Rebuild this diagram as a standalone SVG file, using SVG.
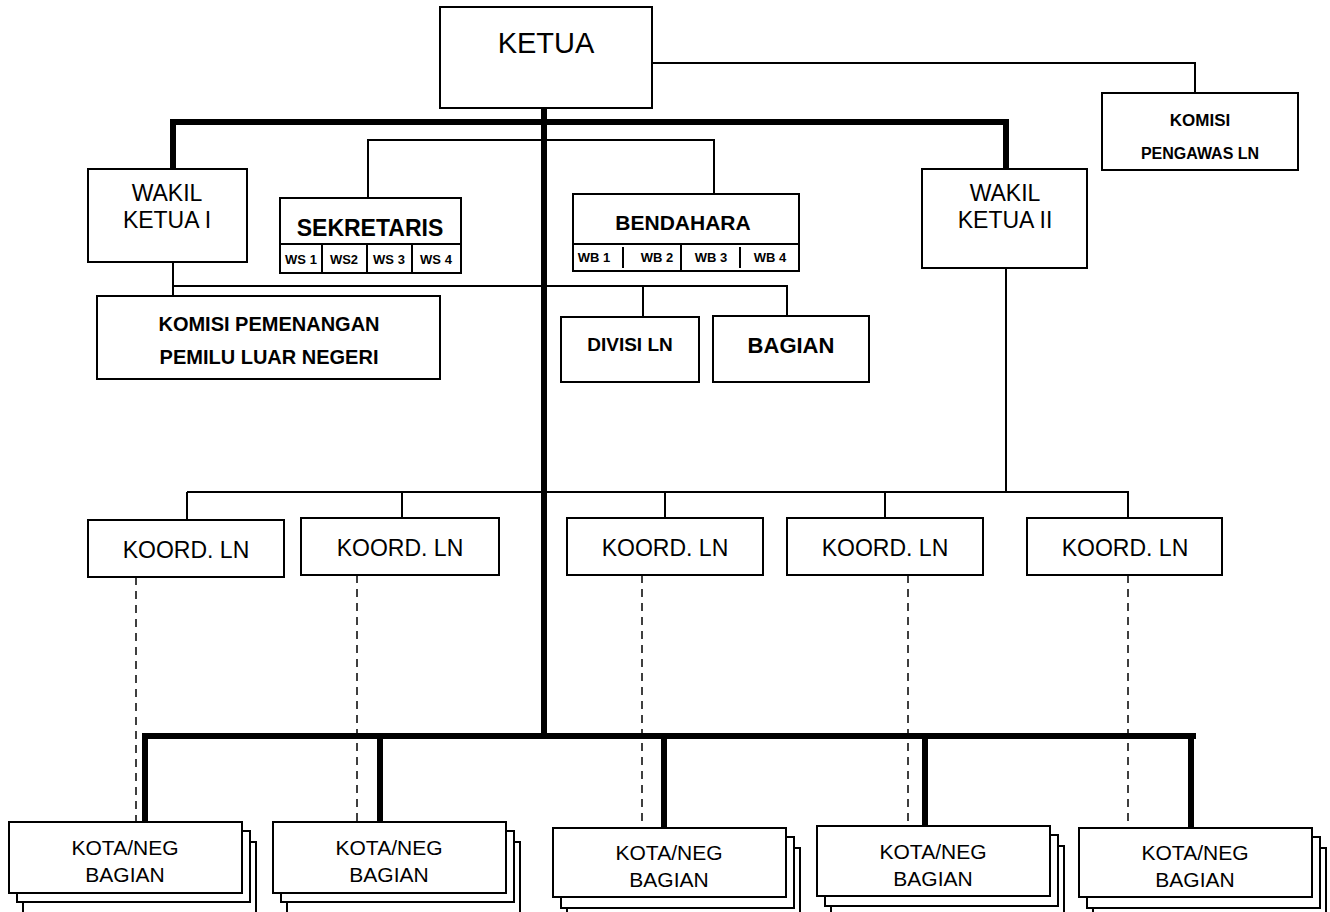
<svg xmlns="http://www.w3.org/2000/svg" width="1330" height="912" viewBox="0 0 1330 912">
<style>
.box{fill:#fff;stroke:#000;stroke-width:2}
.thick{fill:none;stroke:#000;stroke-width:6}
.thin{fill:none;stroke:#000;stroke-width:2}
.dash{fill:none;stroke:#000;stroke-width:1.5;stroke-dasharray:8 6}
.r{font-family:"Liberation Sans",Arial,sans-serif;text-anchor:middle;fill:#000}
.b{font-family:"Liberation Sans",Arial,sans-serif;font-weight:bold;text-anchor:middle;fill:#000}
</style>
<rect width="1330" height="912" fill="#fff"/>
<g id="connectors">
<path class="thick" d="M173 122 H1006 M544 108 V738 M173 119 V169 M1006 119 V169 M142 736 H1196 M145 736 V822 M380 736 V822 M664 736 V828 M925 736 V826 M1191 736 V828"/>
<path class="thin" d="M652 63 H1195 V93 M368 198 V140 H714 V194 M173 262 V296 M173 286 H787 V316 M643 286 V317 M1006 268 V492 M187 492 H1128 V518 M187 492 V520 M402 492 V518 M665 492 V518 M885 492 V518"/>
<path class="dash" d="M136 577 V822 M357 575 V822 M642 575 V828 M908 575 V826 M1128 575 V828"/>
</g>
<g id="ketua">
<rect class="box" x="440" y="7" width="212" height="101"/>
<text class="r" x="546" y="53" font-size="29">KETUA</text>
</g>
<g id="komisi-pengawas">
<rect class="box" x="1102" y="93" width="196" height="77"/>
<text class="b" x="1200" y="126" font-size="17">KOMISI</text>
<text class="b" x="1200" y="159" font-size="16">PENGAWAS LN</text>
</g>
<g id="wakil-ketua-1">
<rect class="box" x="88" y="169" width="159" height="93"/>
<text class="r" x="167" y="201" font-size="23">WAKIL</text>
<text class="r" x="167" y="228" font-size="23">KETUA I</text>
</g>
<g id="sekretaris">
<rect class="box" x="280" y="198" width="181" height="75"/>
<path class="thin" d="M280 244 H461 M322 244 V273 M367 244 V273 M412 244 V273"/>
<text class="b" x="370" y="236" font-size="23">SEKRETARIS</text>
<text class="b" x="301" y="264" font-size="13">WS 1</text>
<text class="b" x="344" y="264" font-size="13">WS2</text>
<text class="b" x="389" y="264" font-size="13">WS 3</text>
<text class="b" x="436" y="264" font-size="13">WS 4</text>
</g>
<g id="bendahara">
<rect class="box" x="573" y="194" width="226" height="77"/>
<path class="thin" d="M573 244 H799 M623 247 V268 M681 244 V271 M740 247 V268"/>
<text class="b" x="683" y="230" font-size="21">BENDAHARA</text>
<text class="b" x="594" y="262" font-size="13">WB 1</text>
<text class="b" x="657" y="262" font-size="13">WB 2</text>
<text class="b" x="711" y="262" font-size="13">WB 3</text>
<text class="b" x="770" y="262" font-size="13">WB 4</text>
</g>
<g id="wakil-ketua-2">
<rect class="box" x="922" y="169" width="165" height="99"/>
<text class="r" x="1005" y="201" font-size="23">WAKIL</text>
<text class="r" x="1005" y="228" font-size="23">KETUA II</text>
</g>
<g id="komisi-pemenangan">
<rect class="box" x="97" y="296" width="343" height="83"/>
<text class="b" x="269" y="331" font-size="20">KOMISI PEMENANGAN</text>
<text class="b" x="269" y="364" font-size="20">PEMILU LUAR NEGERI</text>
</g>
<g id="divisi-ln">
<rect class="box" x="561" y="317" width="138" height="65"/>
<text class="b" x="630" y="351" font-size="19">DIVISI LN</text>
</g>
<g id="bagian">
<rect class="box" x="713" y="316" width="156" height="66"/>
<text class="b" x="791" y="353" font-size="22">BAGIAN</text>
</g>
<g id="koord-1">
<rect class="box" x="88" y="520" width="196" height="57"/>
<text class="r" x="186" y="558" font-size="23">KOORD. LN</text>
</g>
<g id="koord-2">
<rect class="box" x="301" y="518" width="198" height="57"/>
<text class="r" x="400" y="556" font-size="23">KOORD. LN</text>
</g>
<g id="koord-3">
<rect class="box" x="567" y="518" width="196" height="57"/>
<text class="r" x="665" y="556" font-size="23">KOORD. LN</text>
</g>
<g id="koord-4">
<rect class="box" x="787" y="518" width="196" height="57"/>
<text class="r" x="885" y="556" font-size="23">KOORD. LN</text>
</g>
<g id="koord-5">
<rect class="box" x="1027" y="518" width="195" height="57"/>
<text class="r" x="1125" y="556" font-size="23">KOORD. LN</text>
</g>
<g id="kota-1">
<rect class="box" x="23" y="842" width="233" height="75"/>
<rect class="box" x="17" y="831" width="233" height="71"/>
<rect class="box" x="9" y="822" width="233" height="71"/>
<text class="r" x="125" y="855" font-size="21">KOTA/NEG</text>
<text class="r" x="125" y="882" font-size="21">BAGIAN</text>
</g>
<g id="kota-2">
<rect class="box" x="287" y="842" width="233" height="75"/>
<rect class="box" x="281" y="831" width="233" height="71"/>
<rect class="box" x="273" y="822" width="233" height="71"/>
<text class="r" x="389" y="855" font-size="21">KOTA/NEG</text>
<text class="r" x="389" y="882" font-size="21">BAGIAN</text>
</g>
<g id="kota-3">
<rect class="box" x="567" y="848" width="233" height="75"/>
<rect class="box" x="561" y="837" width="233" height="71"/>
<rect class="box" x="553" y="828" width="233" height="69"/>
<text class="r" x="669" y="860" font-size="21">KOTA/NEG</text>
<text class="r" x="669" y="887" font-size="21">BAGIAN</text>
</g>
<g id="kota-4">
<rect class="box" x="831" y="846" width="233" height="75"/>
<rect class="box" x="825" y="835" width="233" height="71"/>
<rect class="box" x="817" y="826" width="233" height="70"/>
<text class="r" x="933" y="859" font-size="21">KOTA/NEG</text>
<text class="r" x="933" y="886" font-size="21">BAGIAN</text>
</g>
<g id="kota-5">
<rect class="box" x="1093" y="848" width="233" height="75"/>
<rect class="box" x="1087" y="837" width="233" height="71"/>
<rect class="box" x="1079" y="828" width="233" height="69"/>
<text class="r" x="1195" y="860" font-size="21">KOTA/NEG</text>
<text class="r" x="1195" y="887" font-size="21">BAGIAN</text>
</g>
</svg>
